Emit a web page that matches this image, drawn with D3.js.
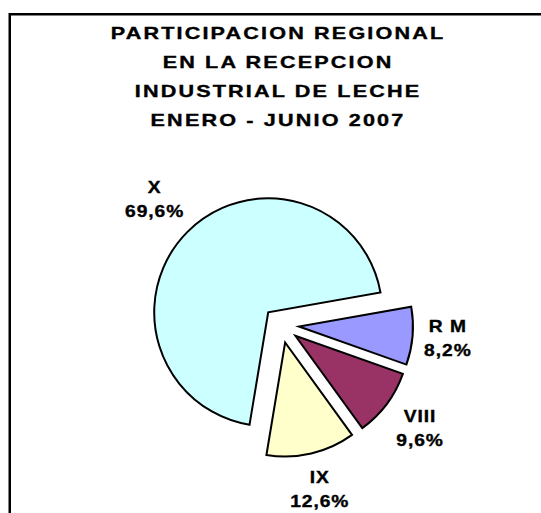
<!DOCTYPE html>
<html>
<head>
<meta charset="utf-8">
<script src="https://cdn.jsdelivr.net/npm/d3@7"></script>
<style>
  body { margin: 0; background: #fff; }
  text { font-family: Arial, "Liberation Sans", sans-serif; font-weight: bold; fill: #000; stroke: #000; stroke-width: 0.35px; }
</style>
</head>
<body>
<div class="graphic"></div>
<script>
const w_svg = 541;
const h_svg = 513;

// data
const regions = ["R M", "VIII", "IX", "X"];
const shares = [8.2, 9.6, 12.6, 69.6];
const colors = ["#9999FF", "#993366", "#FFFFCC", "#CCFFFF"];
const titleLines = [
  "PARTICIPACION REGIONAL",
  "EN LA RECEPCION",
  "INDUSTRIAL DE LECHE",
  "ENERO - JUNIO 2007"
];

const cx = 281, cy = 325;
const radius = 114;
const explode = 18;
const labelGap = 10;
const labelStretch = 1.2;
const firstAngle = 80 * Math.PI / 180;

var svg = d3.select(".graphic")
  .append("svg")
  .attr("width", w_svg)
  .attr("height", h_svg);

// chart area frame (runs off the right and bottom edge)
svg.append("rect")
  .attr("x", 9.75)
  .attr("y", 14.25)
  .attr("width", 600)
  .attr("height", 600)
  .attr("fill", "none")
  .attr("stroke", "#000")
  .attr("stroke-width", 2.5);

// title
svg.selectAll(".title")
  .data(titleLines)
  .enter()
  .append("text")
  .attr("class", "title")
  .attr("transform", (d, i) => "translate(278," + (39 + i * 29) + ") scale(1.35,1)")
  .attr("text-anchor", "middle")
  .style("font-size", "16px")
  .style("letter-spacing", "1.6px")
  .text(d => d);

var pie = d3.pie()
  .sort(null)
  .startAngle(firstAngle)
  .endAngle(firstAngle + 2 * Math.PI);

var arc = d3.arc()
  .innerRadius(0)
  .outerRadius(radius);

var slices = pie(shares);

function midDir(d) {
  var m = (d.startAngle + d.endAngle) / 2;
  return [Math.sin(m), -Math.cos(m)];
}

var pieG = svg.append("g")
  .attr("transform", "translate(" + cx + "," + cy + ")");

pieG.selectAll("path")
  .data(slices)
  .enter()
  .append("path")
  .attr("transform", d => {
    var u = midDir(d);
    return "translate(" + (u[0] * explode) + "," + (u[1] * explode) + ")";
  })
  .attr("d", arc)
  .attr("fill", (d, i) => colors[i])
  .attr("stroke", "#000")
  .attr("stroke-width", 2)
  .attr("stroke-linejoin", "miter");

var fmt = d3.format(".1f");

slices.forEach((d, i) => {
  var outer = pieG.append("g");
  var inner = outer.append("g").attr("transform", "scale(" + labelStretch + ",1)");
  inner.append("text")
    .attr("text-anchor", "middle")
    .style("font-size", "16px")
    .style("letter-spacing", "0.8px")
    .text(regions[i]);
  inner.append("text")
    .attr("text-anchor", "middle")
    .attr("y", 24)
    .style("font-size", "16px")
    .style("letter-spacing", "0.8px")
    .text(fmt(shares[i]).replace(".", ",") + "%");

  var bb = inner.node().getBBox();
  var w = bb.width * labelStretch, h = bb.height;
  var bx = (bb.x + bb.width / 2) * labelStretch, by = bb.y + bb.height / 2;
  var u = midDir(d);
  var dist = explode + radius + labelGap + Math.abs(u[0]) * w / 2 + Math.abs(u[1]) * h / 2;
  outer.attr("transform", "translate(" + (u[0] * dist - bx) + "," + (u[1] * dist - by) + ")");
});
</script>
</body>
</html>
